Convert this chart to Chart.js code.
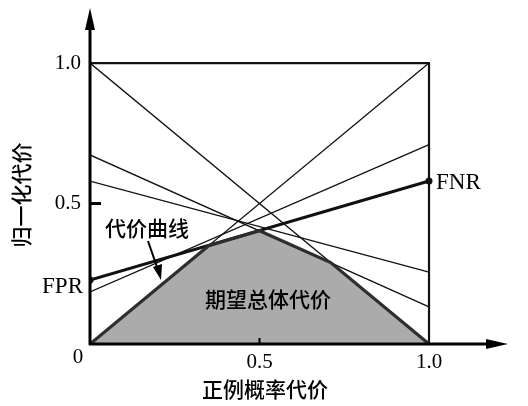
<!DOCTYPE html>
<html lang="zh">
<head>
    <meta charset="UTF-8">
    <title>代价曲线</title>
    <script src="https://cdn.jsdelivr.net/npm/chart.js@4.4.0/dist/chart.umd.min.js"></script>
    <style>
        body {
            margin: 0;
            padding: 0;
            background-color: #ffffff;
        }

        .chart-container {
            position: relative;
            width: 528px;
            height: 406px;
        }
    </style>
</head>
<body>
    <div class="chart-container">
        <canvas id="cost-chart"></canvas>
    </div>

    <script>
        // Each cost line goes from (0, FPR) to (1, FNR)
        const lineFPR = [1.0, 0.0, 0.673, 0.58, 0.185];
        const lineFNR = [0.0, 1.0, 0.132, 0.256, 0.71];

        // the highlighted classifier
        const mainFPR = 0.228;
        const mainFNR = 0.58;

        // lower envelope (expected total cost)
        const envelopeX = [0, 0.35, 0.50, 0.71, 1.0];
        const envelopeY = [0, 0.35, 0.403, 0.29, 0.0];

        const xTicks = [0.5, 1.0];
        const yTicks = [0.5, 1.0];
        const xTickLabels = ['0.5', '1.0'];
        const yTickLabels = ['0.5', '1.0'];

        const serif = '"Liberation Serif", "DejaVu Serif", serif';
        const cjk = '"Noto Sans CJK SC", "Noto Sans", sans-serif';

        function toPoints(xs, ys) {
            return xs.map((x, i) => ({ x: x, y: ys[i] }));
        }

        const datasets = [];

        // grey area under the envelope
        datasets.push({
            data: toPoints(envelopeX, envelopeY),
            fill: 'origin',
            backgroundColor: '#ababab',
            borderWidth: 0,
            pointRadius: 0,
            order: 10
        });

        // box: top edge and right edge
        datasets.push({
            data: [{ x: 0, y: 1 }, { x: 1, y: 1 }, { x: 1, y: 0 }],
            borderColor: '#111',
            borderWidth: 2.2,
            pointRadius: 0,
            fill: false,
            order: 6
        });

        // thin cost lines
        lineFPR.forEach((fpr, i) => {
            datasets.push({
                data: [{ x: 0, y: fpr }, { x: 1, y: lineFNR[i] }],
                borderColor: '#111',
                borderWidth: 1.3,
                pointRadius: 0,
                fill: false,
                order: 5
            });
        });

        // thick line with end dots
        datasets.push({
            data: [{ x: 0, y: mainFPR }, { x: 1, y: mainFNR }],
            borderColor: '#111',
            borderWidth: 3,
            pointRadius: 3.5,
            pointBackgroundColor: '#111',
            pointBorderWidth: 0,
            fill: false,
            order: 4
        });

        // envelope outline on top
        datasets.push({
            data: toPoints(envelopeX, envelopeY),
            borderColor: '#2e2e2e',
            borderWidth: 3.2,
            pointRadius: 0,
            fill: false,
            order: 1
        });

        // axes, ticks and all text labels
        const annotations = {
            id: 'annotations',
            afterDraw(chart) {
                const ctx = chart.ctx;
                const xs = chart.scales.x;
                const ys = chart.scales.y;
                const area = chart.chartArea;
                const x0 = xs.getPixelForValue(0);
                const y0 = ys.getPixelForValue(0);

                ctx.save();
                ctx.strokeStyle = '#000';
                ctx.fillStyle = '#000';
                ctx.lineWidth = 3;

                // y axis with arrow
                ctx.beginPath();
                ctx.moveTo(x0, y0 + 1);
                ctx.lineTo(x0, area.top + 18);
                ctx.stroke();
                ctx.beginPath();
                ctx.moveTo(x0, area.top);
                ctx.lineTo(x0 - 5, area.top + 22);
                ctx.lineTo(x0 + 5, area.top + 22);
                ctx.closePath();
                ctx.fill();

                // x axis with arrow
                ctx.beginPath();
                ctx.moveTo(x0 - 1, y0);
                ctx.lineTo(area.right - 18, y0);
                ctx.stroke();
                ctx.beginPath();
                ctx.moveTo(area.right, y0);
                ctx.lineTo(area.right - 22, y0 - 5);
                ctx.lineTo(area.right - 22, y0 + 5);
                ctx.closePath();
                ctx.fill();

                // tick marks at 0.5
                ctx.lineWidth = 3;
                ctx.beginPath();
                ctx.moveTo(x0, ys.getPixelForValue(0.5));
                ctx.lineTo(x0 + 11, ys.getPixelForValue(0.5));
                ctx.stroke();
                ctx.lineWidth = 2;
                ctx.beginPath();
                ctx.moveTo(xs.getPixelForValue(0.5), y0);
                ctx.lineTo(xs.getPixelForValue(0.5), y0 - 6);
                ctx.stroke();

                // tick labels
                ctx.font = '21px ' + serif;
                ctx.textBaseline = 'middle';
                ctx.textAlign = 'right';
                yTicks.forEach((v, i) => {
                    ctx.fillText(yTickLabels[i], x0 - 9, ys.getPixelForValue(v));
                });
                ctx.textAlign = 'center';
                xTicks.forEach((v, i) => {
                    ctx.fillText(xTickLabels[i], xs.getPixelForValue(v), y0 + 18);
                });
                ctx.fillText('0', x0 - 12, y0 + 13);

                // FPR / FNR
                ctx.font = '23px ' + serif;
                ctx.textAlign = 'right';
                ctx.fillText('FPR', x0 - 7, ys.getPixelForValue(mainFPR) + 7);
                ctx.textAlign = 'left';
                ctx.fillText('FNR', xs.getPixelForValue(1) + 7, ys.getPixelForValue(mainFNR) + 2);

                // axis titles
                ctx.font = '500 21px ' + cjk;
                ctx.textAlign = 'center';
                ctx.fillText('正例概率代价', 265, 389);
                ctx.save();
                ctx.translate(21, 195);
                ctx.rotate(-Math.PI / 2);
                ctx.fillText('归一化代价', 0, 0);
                ctx.restore();

                // inner labels
                ctx.fillText('代价曲线', 147, 228);
                ctx.fillText('期望总体代价', 268, 299);

                // arrow pointing to the curve
                ctx.lineWidth = 2;
                ctx.beginPath();
                ctx.moveTo(148, 241);
                ctx.lineTo(158, 270);
                ctx.stroke();
                ctx.beginPath();
                ctx.moveTo(161, 280);
                ctx.lineTo(153, 267);
                ctx.lineTo(162, 264);
                ctx.closePath();
                ctx.fill();

                ctx.restore();
            }
        };

        new Chart(document.getElementById('cost-chart'), {
            type: 'line',
            data: { datasets: datasets },
            options: {
                responsive: true,
                maintainAspectRatio: false,
                animation: false,
                layout: {
                    padding: { left: 90, right: 20, top: 8, bottom: 62 }
                },
                plugins: {
                    legend: { display: false },
                    tooltip: { enabled: false }
                },
                scales: {
                    x: {
                        type: 'linear',
                        min: 0,
                        max: 1.233,
                        display: false
                    },
                    y: {
                        type: 'linear',
                        min: 0,
                        max: 1.196,
                        display: false
                    }
                }
            },
            plugins: [annotations]
        });
    </script>
</body>
</html>
